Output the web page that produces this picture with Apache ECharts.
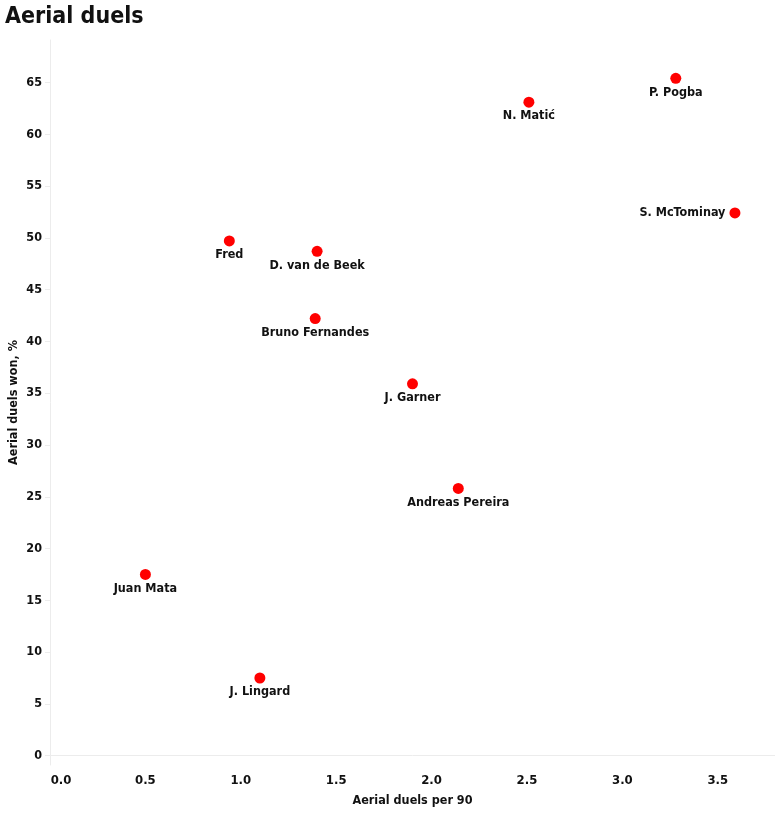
<!DOCTYPE html>
<html>
<head>
<meta charset="utf-8">
<script src="https://cdn.jsdelivr.net/npm/echarts@6/dist/echarts.min.js"></script>
<style>
html,body{margin:0;padding:0;background:#fff;}
#chart{width:775px;height:816px;}
</style>
</head>
<body>
<div id="chart"></div>
<script>
var players = ["P. Pogba","N. Matić","S. McTominay","Fred","D. van de Beek","Bruno Fernandes","J. Garner","Andreas Pereira","Juan Mata","J. Lingard"];
var duelsPer90 = [3.28, 2.51, 3.59, 0.94, 1.40, 1.39, 1.90, 2.14, 0.50, 1.10];
var duelsWonPct = [65.4, 63.1, 52.4, 49.7, 48.7, 42.2, 35.9, 25.8, 17.5, 7.5];
var xTicks = [0, 0.5, 1.0, 1.5, 2.0, 2.5, 3.0, 3.5];
var yTicks = [0, 5, 10, 15, 20, 25, 30, 35, 40, 45, 50, 55, 60, 65];
var leftLabelPlayers = ["S. McTominay"];

var FONT = "'Liberation Sans Narrow', 'DejaVu Sans Condensed', 'Roboto', sans-serif";
var TXT = '#111111';

var data = players.map(function (n, i) {
  var d = { name: n, value: [duelsPer90[i], duelsWonPct[i]] };
  if (leftLabelPlayers.indexOf(n) >= 0) {
    d.label = { position: 'left', distance: 4 };
  }
  return d;
});

var chart = echarts.init(document.getElementById('chart'), null, { renderer: 'canvas' });
chart.setOption({
  backgroundColor: '#ffffff',
  animation: false,
  textStyle: { fontFamily: FONT },
  title: {
    text: 'Aerial duels',
    left: 0, top: 1,
    textStyle: { fontFamily: FONT, fontWeight: 'bold', fontSize: 23, color: TXT }
  },
  grid: { left: 50, right: 0, top: 40, bottom: 51, containLabel: false, outerBoundsMode: 'none' },
  xAxis: {
    type: 'value',
    min: 0, max: 3.8,
    name: 'Aerial duels per 90',
    nameLocation: 'middle',
    nameGap: 29,
    nameMoveOverlap: false,
    nameTextStyle: { fontFamily: FONT, fontWeight: 'bold', fontSize: 12.5, color: TXT },
    axisLine: { show: true, lineStyle: { color: '#ececec', width: 1 } },
    axisTick: { show: false, customValues: xTicks },
    splitLine: { show: false },
    axisLabel: {
      customValues: xTicks,
      margin: 9,
      fontFamily: FONT, fontWeight: 'bold', fontSize: 13, color: TXT,
      formatter: function (v) {
        var s = Number(v).toFixed(1);
        return v === 0 ? '{first|' + s + '}' : s;
      },
      rich: { first: { padding: [0, 0, 0, 22], fontFamily: FONT, fontWeight: 'bold', fontSize: 13, color: TXT } }
    }
  },
  yAxis: {
    type: 'value',
    min: -0.9, max: 69.1,
    name: 'Aerial duels won, %',
    nameLocation: 'middle',
    nameGap: 30,
    nameMoveOverlap: false,
    nameTextStyle: { fontFamily: FONT, fontWeight: 'bold', fontSize: 12.5, color: TXT },
    axisLine: { show: true, lineStyle: { color: '#ececec', width: 1 } },
    axisTick: { show: true, length: 5, customValues: yTicks, lineStyle: { color: '#ececec' } },
    splitLine: { show: false },
    axisLabel: {
      customValues: yTicks,
      margin: 8,
      fontFamily: FONT, fontWeight: 'bold', fontSize: 12.5, color: TXT
    }
  },
  series: [{
    type: 'scatter',
    data: data,
    symbol: 'circle',
    symbolSize: 11,
    itemStyle: { color: '#ff0000', opacity: 1 },
    label: {
      show: true,
      position: 'bottom',
      distance: 2,
      formatter: '{b}',
      fontFamily: FONT, fontWeight: 'bold', fontSize: 12.5, color: TXT
    },
    emphasis: { disabled: true }
  }]
});
</script>
</body>
</html>
